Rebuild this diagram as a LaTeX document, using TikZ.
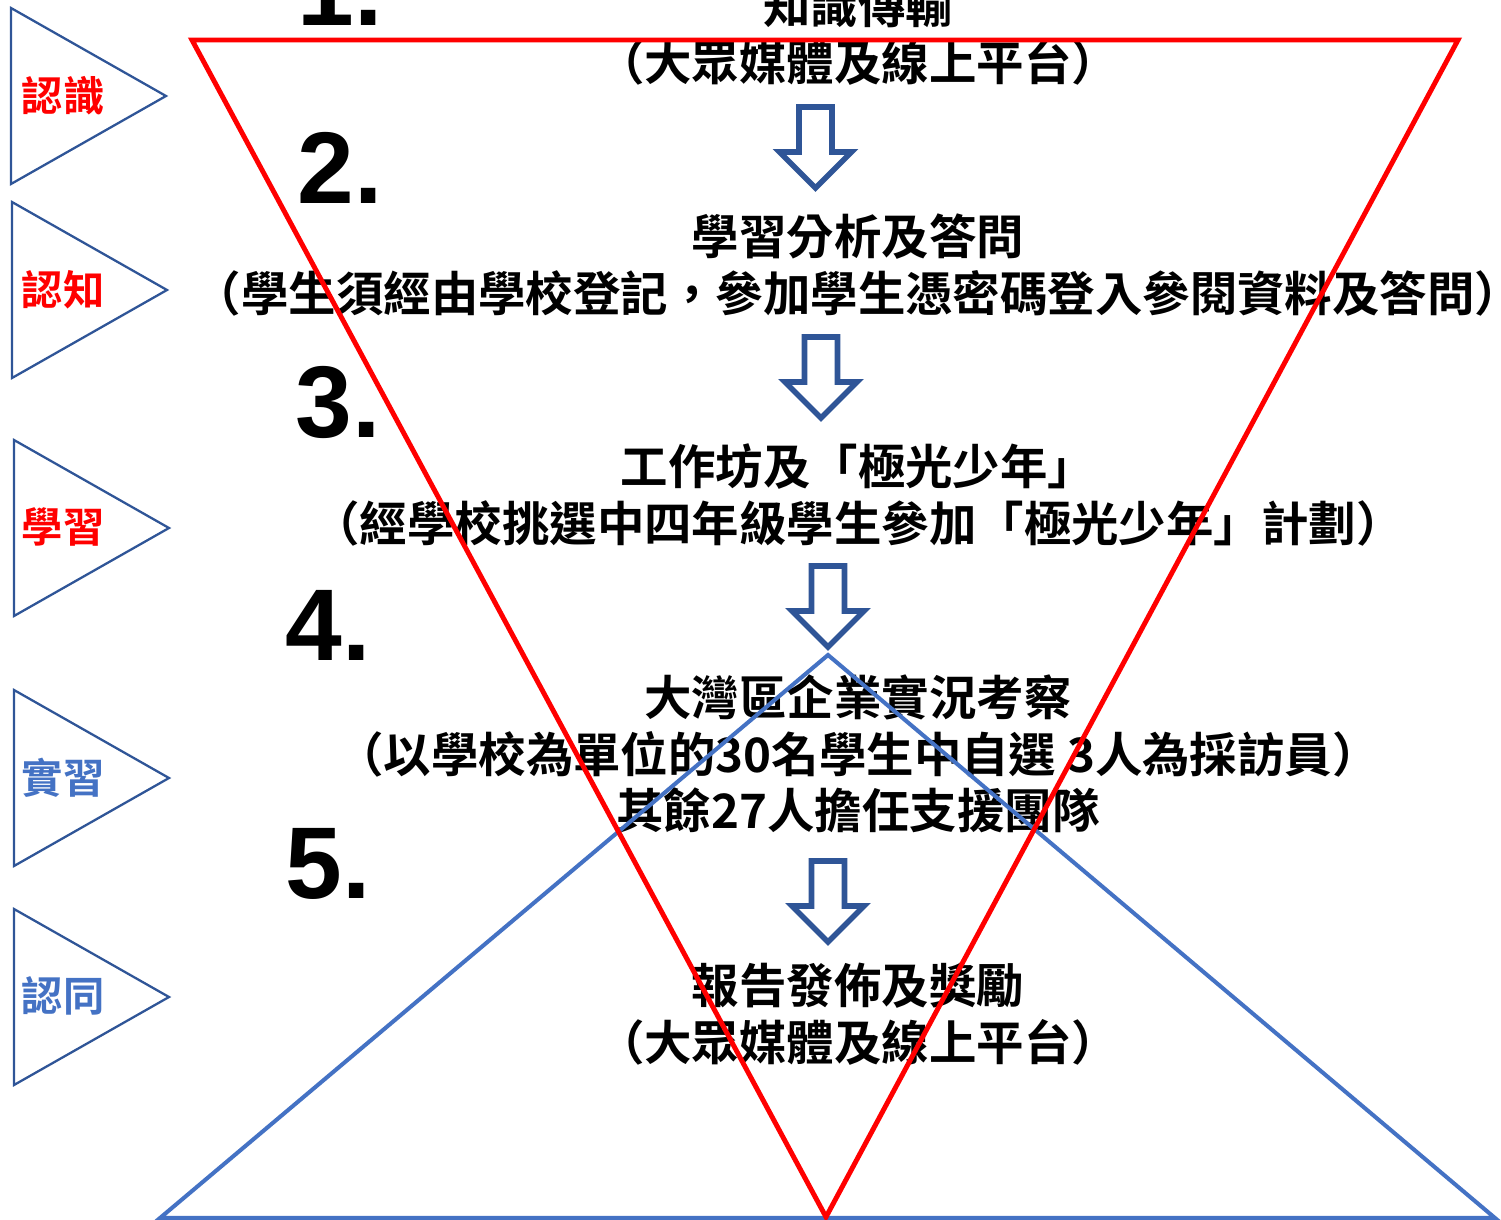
\documentclass[tikz,border=0pt]{standalone}
\usepackage{fontspec}
\setmainfont{Noto Sans CJK TC}[BoldFont={Noto Sans CJK TC Bold}]
\newfontfamily\numfont{Liberation Sans}
\definecolor{arrowblue}{HTML}{2F5597}
\definecolor{triblue}{HTML}{4472C4}
\tikzstyle{stepnum} = [font=\numfont\bfseries\fontsize{58}{60}\selectfont, anchor=base, inner sep=0pt]
\tikzstyle{steptext} = [font=\bfseries\fontsize{27}{32.3}\selectfont, align=center, inner sep=0pt]
\tikzstyle{stagelbl} = [font=\bfseries\fontsize{23.5}{26}\selectfont, inner sep=0pt]
\tikzstyle{downarrow} = [draw=arrowblue, line width=3.2pt, fill=white, line join=miter]
\tikzstyle{pennant} = [draw=arrowblue, line width=1.3pt]
\tikzstyle{redtri} = [draw=red, line width=2.8pt]
\tikzstyle{bluetri} = [draw=triblue, line width=2.3pt]
\begin{document}
\begin{tikzpicture}[x=0.02cm, y=-0.02cm]
    \useasboundingbox (0,0) rectangle (1501,1220);
    % stage pennants on the left
    \foreach \ty/\lx in {8/11, 202/12, 440/14, 690/14, 909/14}
        \draw[pennant] (\lx,\ty) -- ++(155,88) -- ++(-155,88) -- cycle;
    \node at (63,96) [stagelbl, text=red] (aware) {認識};
    \node at (63,290) [stagelbl, text=red] (cognit) {認知};
    \node at (63,527) [stagelbl, text=red] (learn) {學習};
    \node at (63,778) [stagelbl, text=triblue] (intern) {實習};
    \node at (63,996) [stagelbl, text=triblue] (identify) {認同};

    % step numbers
    \node at (340,26) [stepnum] (num1) {1.};
    \node at (340,203) [stepnum] (num2) {2.};
    \node at (338,437) [stepnum] (num3) {3.};
    \node at (328,660) [stepnum] (num4) {4.};
    \node at (328,898) [stepnum] (num5) {5.};

    % step texts
    \node at (858,34) [steptext] (step1) {知識傳輸\\（大眾媒體及線上平台）};
    \node at (858,265) [steptext] (step2) {學習分析及答問\\（學生須經由學校登記，參加學生憑密碼登入參閱資料及答問）};
    \node at (858,495) [steptext] (step3) {工作坊及「極光少年」\\（經學校挑選中四年級學生參加「極光少年」計劃）};
    \node at (858,754) [steptext] (step4) {大灣區企業實況考察\\（以學校為單位的30名學生中自選 3人為採訪員）\\其餘27人擔任支援團隊};
    \node at (858,1014) [steptext] (step5) {報告發佈及獎勵\\（大眾媒體及線上平台）};

    % big triangles
    \coordinate (bluetop) at (828,655);
    \coordinate (bluebl) at (160,1218);
    \coordinate (bluebr) at (1495,1218);
    \draw[bluetri] (bluetop) -- (bluebr) -- (bluebl) -- cycle;
    \coordinate (redtl) at (192,40);
    \coordinate (redtr) at (1458,40);
    \coordinate (redbot) at (826,1217);
    \draw[redtri] (redtl) -- (redtr) -- (redbot) -- cycle;

    % hollow arrows between steps
    \foreach \ax/\ay in {815.5/148, 821/378, 828/607, 828/902}
        \draw[downarrow] (\ax-16.5,\ay-41) -- (\ax+16.5,\ay-41) -- (\ax+16.5,\ay+4)
            -- (\ax+36,\ay+4) -- (\ax,\ay+40) -- (\ax-36,\ay+4) -- (\ax-16.5,\ay+4) -- cycle;
\end{tikzpicture}
\end{document}
